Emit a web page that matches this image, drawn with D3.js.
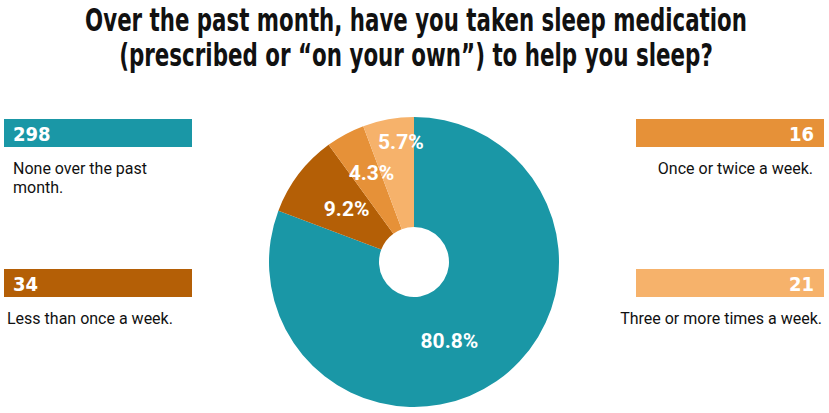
<!DOCTYPE html>
<html>
<head>
<meta charset="utf-8">
<script src="https://cdn.jsdelivr.net/npm/d3@7"></script>
<style>
  body { margin: 0; background: #fff; }
  svg { display: block; }
</style>
</head>
<body>
<svg id="chart" width="829" height="413"></svg>
<script>
// ---- data ----
const categories = [
  "None over the past month.",
  "Less than once a week.",
  "Once or twice a week.",
  "Three or more times a week."
];
const counts = [298, 34, 16, 21];
const colors = ["#1a97a6", "#b45f06", "#e69138", "#f6b26b"];
const titleLines = [
  "Over the past month, have you taken sleep medication",
  "(prescribed or \u201con your own\u201d) to help you sleep?"
];

// ---- layout config ----
const W = 829, H = 413;
const cx = 414, cy = 262, outerR = 145, innerR = 35;
const labelRadii = [86, 86, 99, 121];
const labelAngleShift = [0.18, 0.02, 0.05, 0.07];   // radians
const titleWidths = [662, 594];

const svg = d3.select("#chart");
svg.append("rect").attr("width", W).attr("height", H).attr("fill", "#fff");

// title (condensed horizontally to match width)
const titleG = svg.append("g");
titleLines.forEach((line, i) => {
  const wrap = titleG.append("g");
  const t = wrap.append("text")
    .attr("x", 0)
    .attr("y", 0)
    .attr("text-anchor", "middle")
    .attr("font-family", "'DejaVu Sans Condensed', 'DejaVu Sans', sans-serif")
    .attr("font-weight", "bold")
    .attr("font-size", 32)
    .attr("fill", "#111")
    .text(line);
  const w = t.node().getComputedTextLength();
  const s = titleWidths[i] / w;
  wrap.attr("transform", `translate(416,${31 + i * 35}) scale(${s},1)`);
});

// pie
const total = d3.sum(counts);
const pie = d3.pie().sort(null).value(d => d);
const arcs = pie(counts);
const arc = d3.arc().innerRadius(innerR).outerRadius(outerR);

const g = svg.append("g").attr("transform", `translate(${cx},${cy})`);
g.selectAll("path").data(arcs).join("path")
  .attr("d", arc)
  .attr("fill", (d, i) => colors[i]);

const fmt = v => (v / total * 100).toFixed(1) + "%";
g.selectAll("text.pct").data(arcs).join("text")
  .attr("class", "pct")
  .attr("x", (d, i) => {
    const a = (d.startAngle + d.endAngle) / 2 + labelAngleShift[i];
    return Math.sin(a) * labelRadii[i];
  })
  .attr("y", (d, i) => {
    const a = (d.startAngle + d.endAngle) / 2 + labelAngleShift[i];
    return -Math.cos(a) * labelRadii[i];
  })
  .attr("dy", "0.36em")
  .attr("text-anchor", "middle")
  .attr("font-family", "Roboto, sans-serif")
  .attr("font-weight", "bold")
  .attr("font-size", 21)
  .attr("fill", "#fff")
  .text(d => fmt(d.value));

// legend boxes
const legendPos = [
  { x: 4, y: 119, side: "left" },
  { x: 4, y: 269, side: "left" },
  { x: 636, y: 119, side: "right" },
  { x: 636, y: 269, side: "right" }
];
const labelLines = [
  ["None over the past", "month."],
  ["Less than once a week."],
  ["Once or twice a week."],
  ["Three or more times a week."]
];
const labelX = [9, 3, 177, 186];
const boxW = 188, boxH = 28;

const leg = svg.append("g").selectAll("g").data(categories).join("g")
  .attr("transform", (d, i) => `translate(${legendPos[i].x},${legendPos[i].y})`);

leg.append("rect")
  .attr("width", boxW).attr("height", boxH)
  .attr("fill", (d, i) => colors[i]);

leg.append("text")
  .attr("x", (d, i) => legendPos[i].side === "left" ? 9 : boxW - 10)
  .attr("y", 22)
  .attr("text-anchor", (d, i) => legendPos[i].side === "left" ? "start" : "end")
  .attr("font-family", "'DejaVu Sans Condensed', sans-serif")
  .attr("font-weight", "bold")
  .attr("font-size", 20)
  .attr("fill", "#fff")
  .text((d, i) => counts[i]);

leg.each(function(d, i) {
  const sel = d3.select(this);
  labelLines[i].forEach((line, j) => {
    sel.append("text")
      .attr("x", labelX[i])
      .attr("y", 55 + j * 19)
      .attr("text-anchor", legendPos[i].side === "left" ? "start" : "end")
      .attr("font-family", "Roboto, sans-serif")
      .attr("font-size", 16)
      .attr("fill", "#111")
      .text(line);
  });
});
</script>
</body>
</html>
